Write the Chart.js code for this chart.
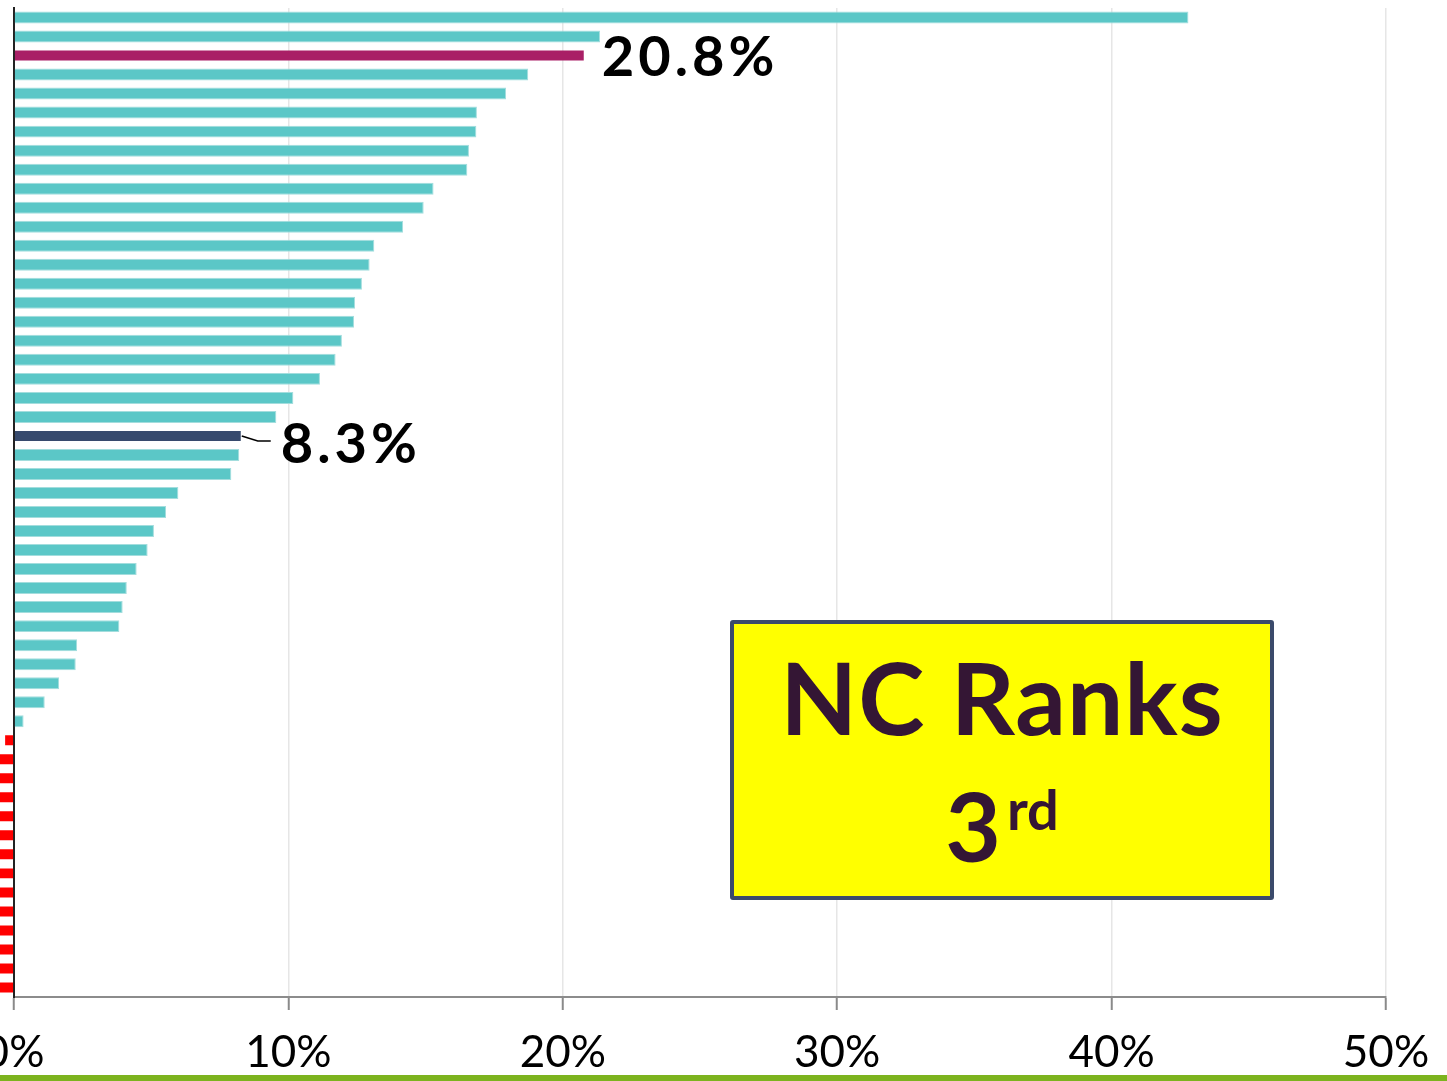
<!DOCTYPE html>
<html>
<head>
<meta charset="utf-8">
<script src="https://cdn.jsdelivr.net/npm/chart.js@4/dist/chart.umd.min.js"></script>
<style>
  html, body { margin: 0; padding: 0; width: 1447px; height: 1081px; overflow: hidden; background: #ffffff; }
  #wrap { position: absolute; left: -200px; top: 0; width: 1647px; height: 1081px; }
  #box {
    position: absolute; left: 730px; top: 620px; width: 544px; height: 280px;
    box-sizing: border-box; border: 4px solid #3b4a6b; border-radius: 3px; background: #ffff00;
    font-family: Lato, "Open Sans", sans-serif; font-weight: 700; color: #341634; text-align: center;
  }
  #box .l1 { position: absolute; left: 0; right: 0; top: 22px; font-size: 100px; line-height: 100px; letter-spacing: 1px; }
  #box .l2 { position: absolute; left: 0; right: 0; top: 153px; font-size: 96px; line-height: 96px; }
  #box .sup { font-size: 56px; position: relative; top: -32px; margin-left: 6px; }
  #greenbar { position: absolute; left: 0; top: 1075px; width: 1447px; height: 6px; background: #7cb31e; }
</style>
</head>
<body>
<div id="wrap"><canvas id="c"></canvas></div>
<div id="box"><div class="l1">NC Ranks</div><div class="l2">3<span class="sup">rd</span></div></div>
<div id="greenbar"></div>
<script>
// ---- data ----
const categories = [
  "Rank 1", "Rank 2", "NC", "Rank 4", "Rank 5", "Rank 6", "Rank 7", "Rank 8", "Rank 9", "Rank 10",
  "Rank 11", "Rank 12", "Rank 13", "Rank 14", "Rank 15", "Rank 16", "Rank 17", "Rank 18", "Rank 19", "Rank 20",
  "Rank 21", "Rank 22", "US", "Rank 23", "Rank 24", "Rank 25", "Rank 26", "Rank 27", "Rank 28", "Rank 29",
  "Rank 30", "Rank 31", "Rank 32", "Rank 33", "Rank 34", "Rank 35", "Rank 36", "Rank 37", "Rank 38", "Rank 39",
  "Rank 40", "Rank 41", "Rank 42", "Rank 43", "Rank 44", "Rank 45", "Rank 46", "Rank 47", "Rank 48", "Rank 49",
  "Rank 50", "Rank 51"
];
const values = [
  42.80, 21.36, 20.80, 18.74, 17.93, 16.87, 16.85, 16.58, 16.52, 15.29,
  14.93, 14.18, 13.13, 12.96, 12.68, 12.43, 12.39, 11.95, 11.72, 11.15,
  10.18, 9.56, 8.30, 8.21, 7.92, 5.99, 5.54, 5.10, 4.87, 4.47,
  4.11, 3.96, 3.84, 2.30, 2.25, 1.64, 1.12, 0.35, -0.36, -0.9,
  -1.2, -1.5, -1.8, -2.1, -2.5, -2.9, -3.3, -3.8, -4.4, -5.1,
  -6.0, -7.5
];
const xTicks = [0, 10, 20, 30, 40, 50];
const highlightState = "NC";
const highlightNation = "US";

const COL_TEAL = "#5bc7c7", COL_NC = "#a91f66", COL_US = "#374a6d", COL_NEG = "#ff0000";

const labelPlugin = {
  id: "labels",
  afterDatasetsDraw(chart) {
    const ctx = chart.ctx;
    const meta = chart.getDatasetMeta(0);
    const iNC = categories.indexOf(highlightState);
    const iUS = categories.indexOf(highlightNation);
    ctx.save();
    ctx.fillStyle = "#000";
    ctx.font = "bold 56px Lato, 'Open Sans', sans-serif";
    ctx.textAlign = "left";
    ctx.textBaseline = "alphabetic";
    try { ctx.letterSpacing = "4px"; } catch (e) {}
    const eNC = meta.data[iNC];
    ctx.fillText(values[iNC].toFixed(1) + "%", eNC.x + 17, eNC.y + 20);
    const eUS = meta.data[iUS];
    ctx.fillText(values[iUS].toFixed(1) + "%", eUS.x + 39, eUS.y + 27);
    ctx.strokeStyle = "#000";
    ctx.lineWidth = 1.5;
    ctx.beginPath();
    ctx.moveTo(eUS.x, eUS.y);
    ctx.lineTo(eUS.x + 16, eUS.y + 5);
    ctx.lineTo(eUS.x + 29, eUS.y + 5);
    ctx.stroke();
    ctx.restore();
  }
};

new Chart(document.getElementById("c"), {
  type: "bar",
  data: {
    labels: categories,
    datasets: [{
      data: values,
      clip: false,
      backgroundColor: (c) => {
        const lab = categories[c.dataIndex];
        if (lab === highlightState) return COL_NC;
        if (lab === highlightNation) return COL_US;
        return values[c.dataIndex] < 0 ? COL_NEG : COL_TEAL;
      },
      borderColor: (c) => {
        const lab = categories[c.dataIndex];
        if (lab === highlightState || lab === highlightNation || values[c.dataIndex] < 0) return "rgba(0,0,0,0)";
        return "#a3dddd";
      },
      borderWidth: 1,
      borderSkipped: "start",
      barPercentage: 0.63,
      categoryPercentage: 1
    }]
  },
  options: {
    indexAxis: "y",
    responsive: true,
    maintainAspectRatio: false,
    animation: false,
    layout: { padding: { left: 214, right: 61, top: 8, bottom: 0 } },
    plugins: { legend: { display: false }, tooltip: { enabled: false } },
    scales: {
      x: {
        min: 0, max: 50,
        afterBuildTicks: (s) => { s.ticks = xTicks.map(v => ({ value: v })); },
        afterFit: (s) => { s.height = 84; },
        grid: { color: "#e6e6e6", lineWidth: 1.5, tickColor: "#8a8a8a", tickLength: 13, tickWidth: 2 },
        border: { color: "#8c8c8c", width: 2 },
        ticks: {
          padding: 16,
          color: "#000",
          font: { family: "Lato, 'Open Sans', sans-serif", size: 44 },
          callback: (v) => v + "%"
        }
      },
      y: {
        z: 1,
        afterFit: (s) => { s.width = 0; },
        grid: { display: false, drawTicks: false },
        border: { color: "#222", width: 2 },
        ticks: { display: false }
      }
    }
  },
  plugins: [labelPlugin]
});
</script>
</body>
</html>
